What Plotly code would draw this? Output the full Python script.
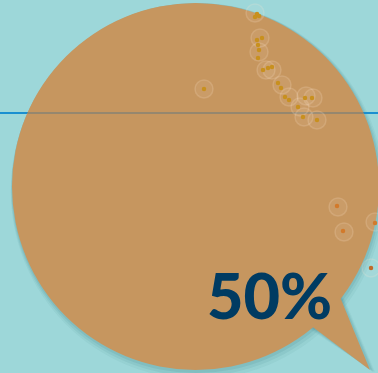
import math
import plotly.graph_objects as go

# --- data (pixel-space coordinates of the dots) ---
dot_x = [255, 257, 259, 257, 262, 258, 259, 258, 263, 268, 272, 278, 281, 285, 289, 298, 305, 312, 303, 317, 204, 337, 343, 375, 371]
dot_y = [17, 14, 16, 40, 38, 45, 50, 58, 70, 68, 67, 83, 88, 97, 100, 107, 98, 98, 117, 120, 89, 206, 231, 223, 268]
dot_color = ["#c8901f"] * 21 + ["#d27a2c", "#d27a2c", "#d27a2c", "#c06a2a"]
halo_x = [255, 260, 259, 266, 272, 282, 289, 300, 306, 313, 304, 317, 204, 338, 344, 375, 371]
halo_y = [13, 38, 52, 70, 70, 85, 97, 107, 96, 98, 117, 120, 89, 207, 232, 222, 268]
ref_line_y = 113
headline = "50%"

W, H = 378, 373
BG = "#9dd7d9"
TAN = "#c6965f"
NAVY = "#003b62"

cx, cy, r = 195.5, 186.5, 183.5
tail = "M 338,292 L 370,370 L 306,322 Z"

fig = go.Figure()

shapes = []
for off, extra, op in [(6, 3, 0.05), (4, 2, 0.07), (2, 1, 0.09)]:
    shapes.append(dict(type="circle", xref="x", yref="y",
                       x0=cx - r - extra + off * 0.3, x1=cx + r + extra + off * 0.4,
                       y0=cy - r - extra + off * 0.5, y1=cy + r + extra + off,
                       fillcolor=f"rgba(20,90,100,{op})", line=dict(width=0), layer="below"))
    shapes.append(dict(type="path", xref="x", yref="y",
                       path=f"M {338+off},{292+off} L {372+off*0.5},{372} L {306+off*0.3},{322+off} Z",
                       fillcolor=f"rgba(20,90,100,{op})", line=dict(width=0), layer="below"))
shapes.append(dict(type="line", xref="x", yref="y", x0=0, x1=W, y0=ref_line_y, y1=ref_line_y,
                   line=dict(color="#1a8fd0", width=2), layer="below"))
shapes.append(dict(type="circle", xref="x", yref="y", x0=cx - r, x1=cx + r, y0=cy - r, y1=cy + r,
                   fillcolor=TAN, line=dict(width=0), layer="below"))
shapes.append(dict(type="path", xref="x", yref="y", path=tail,
                   fillcolor=TAN, line=dict(width=0), layer="below"))
half = math.sqrt(r * r - (ref_line_y - cy) ** 2)
shapes.append(dict(type="line", xref="x", yref="y", x0=cx - half, x1=cx + half, y0=ref_line_y, y1=ref_line_y,
                   line=dict(color="rgba(60,110,140,0.35)", width=2), layer="below"))

fig.add_trace(go.Scatter(
    x=halo_x, y=halo_y, mode="markers", hoverinfo="skip",
    marker=dict(size=18, color="rgba(255,240,220,0.07)",
                line=dict(color="rgba(255,235,210,0.18)", width=1.5)),
))
fig.add_trace(go.Scatter(
    x=dot_x, y=dot_y, mode="markers", hoverinfo="skip",
    marker=dict(size=4.5, color=dot_color, line=dict(width=0)),
))

fig.add_annotation(x=269, y=294, xref="x", yref="y", text=headline, showarrow=False,
                   font=dict(family="Lato", size=63, color=NAVY, weight=900),
                   xanchor="center", yanchor="middle")

fig.update_layout(
    width=W, height=H, margin=dict(l=0, r=0, t=0, b=0),
    paper_bgcolor=BG, plot_bgcolor=BG, showlegend=False, shapes=shapes,
    xaxis=dict(range=[0, W], visible=False, fixedrange=True),
    yaxis=dict(range=[H, 0], visible=False, fixedrange=True),
)

fig.write_html("out.html", config={"displayModeBar": False},
               post_script="document.body.style.margin='0';document.body.style.background='%s';" % BG)
